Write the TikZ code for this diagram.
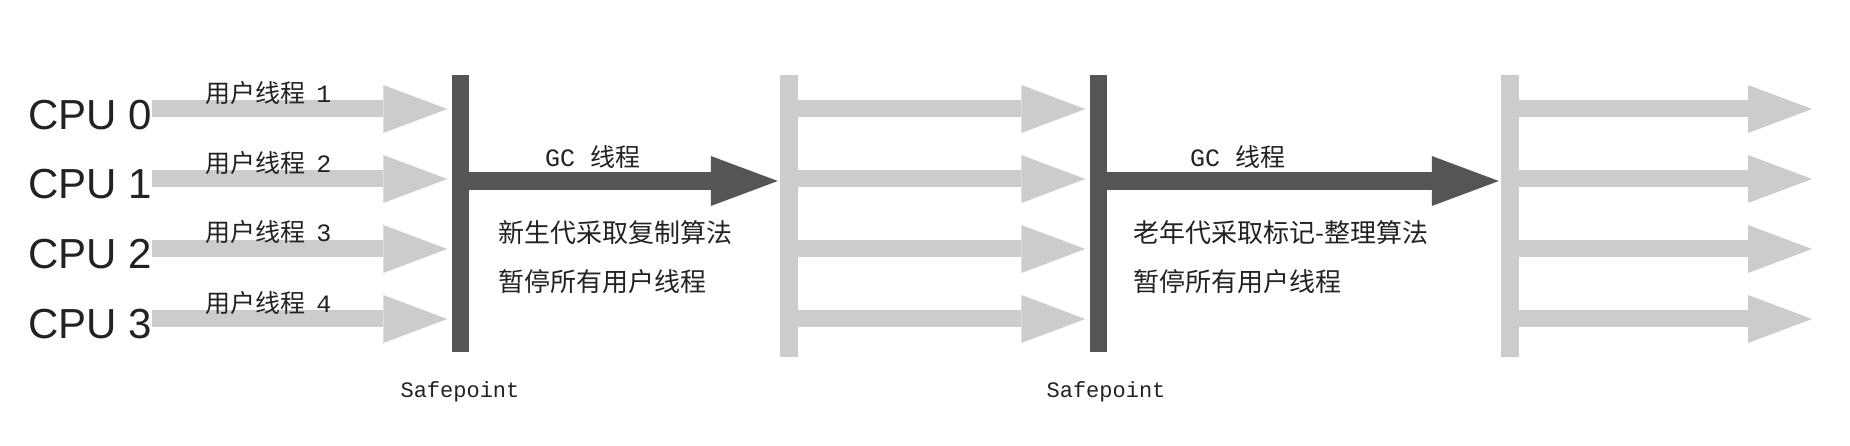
\documentclass[tikz,border=0pt]{standalone}
\usepackage{fontspec}
\setmainfont{Liberation Sans}
\setmonofont{Liberation Mono}
\newfontfamily\cjk{Noto Sans CJK SC}
\usepackage{tikz}
\usetikzlibrary{positioning, arrows.meta}
\definecolor{barlight}{HTML}{CCCCCC}
\definecolor{bardark}{HTML}{555555}
\definecolor{textdark}{HTML}{222222}
\tikzset{
	cputext/.style={font=\fontsize{42}{46}\selectfont, text=textdark, inner sep=0pt, anchor=base west}
}
\tikzset{
	threadtext/.style={font=\fontsize{25}{28}\selectfont\cjk, text=textdark, inner sep=0pt, anchor=west}
}
\tikzset{
	notetext/.style={font=\fontsize{26}{30}\selectfont\cjk, text=textdark, inner sep=0pt, anchor=west},
	safetext/.style={font=\fontsize{22}{26}\selectfont\ttfamily, text=textdark, inner sep=0pt}
}
\tikzset{
	lightbar/.style={rectangle, fill=barlight, minimum width=18pt, inner sep=0pt},
	darkbar/.style={rectangle, fill=bardark, minimum width=17pt, inner sep=0pt},
	lightarrow/.style={draw=barlight, line width=17pt, shorten >=4pt, -{Triangle[length=64pt, width=48pt, line width=0pt]}},
	darkarrow/.style={draw=bardark, line width=18pt, shorten >=2pt, -{Triangle[length=67pt, width=50pt, line width=0pt]}}
}
\newcommand{\ttnum}[1]{\texttt{#1}}

\begin{document}
\begin{tikzpicture}[x=1pt, y=-1pt]
      \useasboundingbox (0,0) rectangle (1850,446);
      % rows of the user threads
      \coordinate (row0) at (0,109);
      \coordinate (row1) at (0,179);
      \coordinate (row2) at (0,249);
      \coordinate (row3) at (0,319);
      \coordinate (gcrow) at (0,181);
      \coordinate (endx) at (1812,0);
      % cpus
      \node[cputext] (cpu0) at (28,130) {CPU 0};
      \node[cputext] (cpu1) at (28,199) {CPU 1};
      \node[cputext] (cpu2) at (28,269) {CPU 2};
      \node[cputext] (cpu3) at (28,338) {CPU 3};
      % safepoints and resume bars
      \node[darkbar, minimum height=277pt] (sp1) at (460,213.5) {};
      \node[lightbar, minimum height=282pt] (go1) at (789,216) {};
      \node[darkbar, minimum height=277pt] (sp2) at (1098,213.5) {};
      \node[lightbar, minimum height=282pt] (go2) at (1510,216) {};
      % user threads before the first safepoint
      \draw[lightarrow] (cpu0.east |- row0) -- (sp1.west |- row0);
      \draw[lightarrow] (cpu1.east |- row1) -- (sp1.west |- row1);
      \draw[lightarrow] (cpu2.east |- row2) -- (sp1.west |- row2);
      \draw[lightarrow] (cpu3.east |- row3) -- (sp1.west |- row3);
      \node[threadtext] (t0) at (205,93) {用户线程\hspace{0.45em}\ttnum{1}};
      \node[threadtext] (t1) at (205,163) {用户线程\hspace{0.45em}\ttnum{2}};
      \node[threadtext] (t2) at (205,232) {用户线程\hspace{0.45em}\ttnum{3}};
      \node[threadtext] (t3) at (205,303) {用户线程\hspace{0.45em}\ttnum{4}};
      % gc threads
      \draw[darkarrow] (sp1.east |- gcrow) -- (go1.west |- gcrow);
      \draw[darkarrow] (sp2.east |- gcrow) -- (go2.west |- gcrow);
      \node[threadtext] (gc1) at (545,157) {\ttnum{GC}\hspace{0.6em}线程};
      \node[threadtext] (gc2) at (1190,157) {\ttnum{GC}\hspace{0.6em}线程};
      \node[notetext] (note1a) at (498,233) {新生代采取复制算法};
      \node[notetext] (note1b) at ([yshift=-49pt]note1a.west) {暂停所有用户线程};
      \node[notetext] (note2a) at (1133,233) {老年代采取标记-整理算法};
      \node[notetext] (note2b) at ([yshift=-49pt]note2a.west) {暂停所有用户线程};
      % user threads between and after the safepoints
      \draw[lightarrow] (go1.east |- row0) -- (sp2.west |- row0);
      \draw[lightarrow] (go1.east |- row1) -- (sp2.west |- row1);
      \draw[lightarrow] (go1.east |- row2) -- (sp2.west |- row2);
      \draw[lightarrow] (go1.east |- row3) -- (sp2.west |- row3);
      \draw[lightarrow, shorten >=0pt] (go2.east |- row0) -- (endx |- row0);
      \draw[lightarrow, shorten >=0pt] (go2.east |- row1) -- (endx |- row1);
      \draw[lightarrow, shorten >=0pt] (go2.east |- row2) -- (endx |- row2);
      \draw[lightarrow, shorten >=0pt] (go2.east |- row3) -- (endx |- row3);
      % labels under the safepoints
      \node[safetext, below=29pt of sp1] (spt1) {Safepoint};
      \node[safetext, below=29pt of sp2, xshift=8pt] (spt2) {Safepoint};
    \end{tikzpicture}
\end{document}
